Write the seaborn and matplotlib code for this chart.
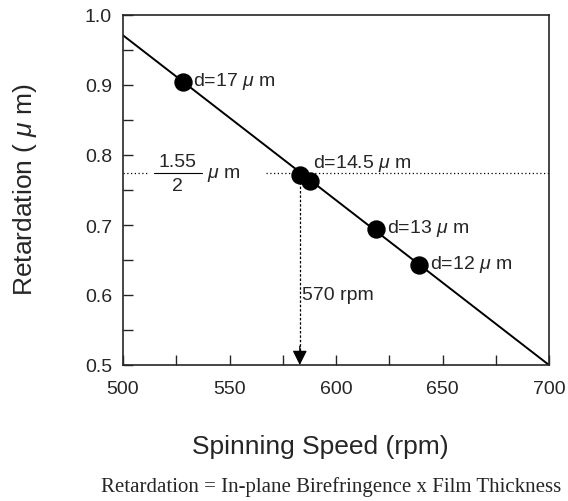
import matplotlib
matplotlib.use("Agg")
import matplotlib.pyplot as plt
import seaborn as sns
import pandas as pd

# Data
rpm_pts = [528, 583, 588, 619, 639]
ret_pts = [0.905, 0.772, 0.763, 0.694, 0.643]
pt_labels = ["d=17 $\\mu$ m", "", "d=14.5 $\\mu$ m", "d=13 $\\mu$ m", "d=12 $\\mu$ m"]
rpm_line = [500, 700]
ret_line = [0.971, 0.5]
target_ret = 1.55 / 2
target_rpm = 583
x_ticks = [500, 550, 600, 650, 700]
y_ticks = [0.5, 0.6, 0.7, 0.8, 0.9, 1.0]

sns.set_style("ticks")
plt.rcParams['font.family'] = ['Liberation Sans', 'DejaVu Sans']
plt.rcParams['mathtext.fontset'] = 'custom'
plt.rcParams['mathtext.rm'] = 'Liberation Sans'
plt.rcParams['mathtext.it'] = 'Liberation Sans:italic'

fig = plt.figure(figsize=(5.68, 5.02), dpi=100)
ax = fig.add_axes([123/568, 1-366/502, (549-123)/568, (366-16)/502])

df_line = pd.DataFrame({"rpm": rpm_line, "ret": ret_line})
df_pts = pd.DataFrame({"rpm": rpm_pts, "ret": ret_pts})
sns.lineplot(data=df_line, x="rpm", y="ret", ax=ax, color="black", lw=1.4)
sns.scatterplot(data=df_pts, x="rpm", y="ret", ax=ax, color="black", s=150,
                edgecolor="black", zorder=5)

# reference lines
ax.plot([500, 512], [target_ret, target_ret], color="black", lw=0.9, ls=(0, (1, 2)))
ax.plot([567, 700], [target_ret, target_ret], color="black", lw=0.9, ls=(0, (1, 2)))
ax.plot([target_rpm, target_rpm], [target_ret, 0.52], color="black", lw=0.9, ls=(0, (2, 1.5)))
ax.annotate("", xy=(target_rpm, 0.5), xytext=(target_rpm, 0.527),
            arrowprops=dict(arrowstyle="-|>", color="black", lw=0.9, mutation_scale=22,
                            shrinkA=0, shrinkB=0))

# fraction label
ax.text(525.5, target_ret + 0.004, "1.55", ha="center", va="bottom", fontsize=14)
ax.text(525.5, target_ret - 0.006, "2", ha="center", va="top", fontsize=14)
ax.plot([514.5, 537], [target_ret - 0.001, target_ret - 0.001], color="black", lw=0.8)
ax.text(539.5, target_ret - 0.002, "$\\mu$ m", ha="left", va="center", fontsize=14)

ax.text(target_rpm + 1, 0.6, "570 rpm", ha="left", va="center", fontsize=14)

offsets = [(5, 0), (0, 0), (1, 0.024), (5, 0.0), (5, 0.0)]
for x, y, lab, (dx, dy) in zip(rpm_pts, ret_pts, pt_labels, offsets):
    if lab:
        ax.text(x + dx, y + dy + 0.002, lab, ha="left", va="center", fontsize=14)

ax.set_xlim(500, 700)
ax.set_ylim(0.5, 1.0)
ax.set_xticks(x_ticks)
ax.set_yticks(y_ticks)
ax.set_xticks([525, 575, 625, 675], minor=True)
ax.set_yticks([0.55, 0.65, 0.75, 0.85, 0.95], minor=True)
ax.set_xticklabels([str(v) for v in x_ticks])
ax.set_yticklabels([f"{v:.1f}" for v in y_ticks])
ax.tick_params(which="both", direction="in", length=7, width=1, labelsize=14)
ax.tick_params(axis="x", pad=11)
ax.tick_params(axis="y", pad=8)
for s in ax.spines.values():
    s.set_linewidth(1.2)
    s.set_visible(True)
ax.set_xlabel("")
ax.set_ylabel("")

fig.text(320/568, 1-447/502, "Spinning Speed (rpm)", ha="center", va="center", fontsize=19)
fig.text(25/568, 1-190/502, "Retardation ( $\\mu$ m)", ha="center", va="center",
         rotation=90, fontsize=19)
fig.text(331/568, 1-487/502, "Retardation = In-plane Birefringence x Film Thickness",
         ha="center", va="center", fontsize=15, family=["Liberation Serif"])

fig.savefig("out.png", dpi=100)
